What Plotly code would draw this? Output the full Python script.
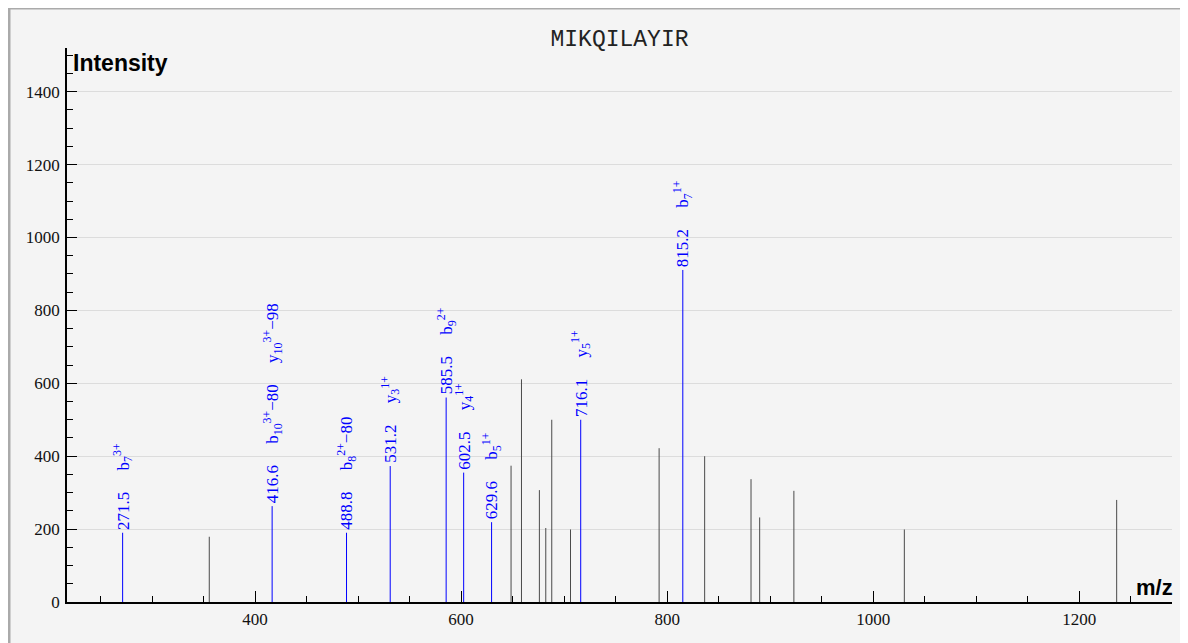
import plotly.graph_objects as go

# Peptide spectrum: MIKQILAYIR
peptide = "MIKQILAYIR"

# annotated fragment peaks (blue)
mz_matched = [271.5, 416.6, 488.8, 531.2, 585.5, 602.5, 629.6, 716.1, 815.2]
int_matched = [190, 263, 190, 373, 561, 355, 219, 500, 911]
ion_labels = [
    ["b<sub>7</sub><sup>3+</sup>"],
    ["b<sub>10</sub><sup>3+</sup>−80", "y<sub>10</sub><sup>3+</sup>−98"],
    ["b<sub>8</sub><sup>2+</sup>−80"],
    ["y<sub>3</sub><sup>1+</sup>"],
    ["b<sub>9</sub><sup>2+</sup>"],
    ["y<sub>4</sub><sup>1+</sup>"],
    ["b<sub>5</sub><sup>1+</sup>"],
    ["y<sub>5</sub><sup>1+</sup>"],
    ["b<sub>7</sub><sup>1+</sup>"],
]

# unmatched peaks (grey)
mz_other = [355.6, 648.5, 658.6, 676.0, 682.2, 688.0, 706.2, 792.2,
            836.4, 881.4, 889.8, 923.0, 1030.2, 1236.3]
int_other = [179, 374, 611, 307, 203, 500, 199, 422,
             400, 337, 232, 305, 199, 280]

SERIF = "Liberation Serif"
BLUE = "#0000ff"


def sticks(mz, inten):
    xs, ys = [], []
    for m, h in zip(mz, inten):
        xs += [m, m, None]
        ys += [0, h, None]
    return xs, ys


fig = go.Figure()

xo, yo = sticks(mz_other, int_other)
fig.add_trace(go.Scatter(x=xo, y=yo, mode="lines",
                         line=dict(color="#4a4a4a", width=1),
                         hoverinfo="skip", showlegend=False))

xm, ym = sticks(mz_matched, int_matched)
fig.add_trace(go.Scatter(x=xm, y=ym, mode="lines",
                         line=dict(color=BLUE, width=1),
                         hoverinfo="skip", showlegend=False))

gap = "\u00a0" * 5
for m, h, ions in zip(mz_matched, int_matched, ion_labels):
    fig.add_annotation(
        x=m, y=h, xref="x", yref="y",
        text=f"{m:.1f}" + gap + gap.join(ions),
        textangle=-90, showarrow=False,
        xanchor="center", yanchor="bottom", yshift=1,
        font=dict(family=SERIF, size=17, color=BLUE),
    )

# axis captions
fig.add_annotation(text="<b>Intensity</b>", xref="paper", yref="paper",
                   x=0.004, y=1.0, xanchor="left", yanchor="top",
                   showarrow=False,
                   font=dict(family="Liberation Sans", size=23, color="black"))
fig.add_annotation(text="<b>m/z</b>", xref="paper", yref="paper",
                   x=1.0, y=0.0, xanchor="right", yanchor="bottom",
                   xshift=3, showarrow=False,
                   font=dict(family="Liberation Sans", size=22, color="black"))

# framed panel (page border)
fig.add_shape(type="rect", xref="paper", yref="paper",
              x0=-58 / 1105, x1=1.1, y0=-0.2, y1=1 + 40 / 554,
              line=dict(color="#aaaaaa", width=3),
              fillcolor="#f4f4f4", layer="below")

fig.update_xaxes(
    range=[217.5, 1290], dtick=200, tick0=0,
    ticks="inside", ticklen=11, tickcolor="black", tickwidth=1,
    minor=dict(dtick=50, tick0=0, ticks="inside", ticklen=6,
               tickcolor="black", tickwidth=1),
    showgrid=False, zeroline=False,
    showline=True, linecolor="black", linewidth=1.5,
    tickfont=dict(family=SERIF, size=17, color="#111111"),
    ticklabelstandoff=1,
)
fig.update_yaxes(
    range=[0, 1520], dtick=200, tick0=0,
    ticks="inside", ticklen=10, tickcolor="black", tickwidth=1,
    minor=dict(dtick=50, tick0=0, ticks="inside", ticklen=6,
               tickcolor="black", tickwidth=1),
    showgrid=True, gridcolor="#dcdcdc", gridwidth=1, zeroline=False,
    showline=True, linecolor="black", linewidth=1.5,
    tickfont=dict(family=SERIF, size=17, color="#111111"),
    ticklabelstandoff=2,
)

fig.update_layout(
    width=1188, height=643,
    margin=dict(l=59, r=24, t=40, b=49),
    paper_bgcolor="white", plot_bgcolor="#f4f4f4",
    title=dict(text=peptide, x=0.5, xref="paper", xanchor="center",
               y=1 - 30 / 643, yanchor="middle",
               font=dict(family="Liberation Mono", size=23, color="#222222")),
)

fig.write_html("out.html")
